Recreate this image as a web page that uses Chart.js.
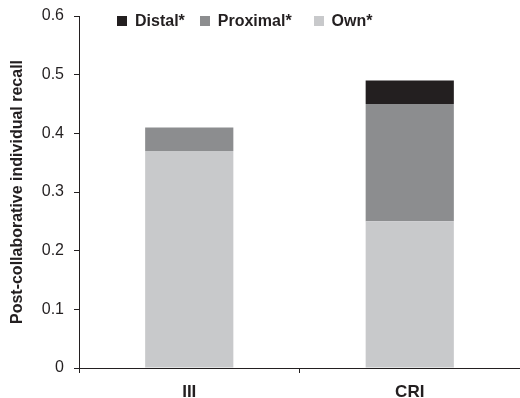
<!DOCTYPE html>
<html>
<head>
<meta charset="utf-8">
<script src="https://cdn.jsdelivr.net/npm/chart.js@4"></script>
<style>
  html, body { margin: 0; padding: 0; background: #fff; }
  #wrap { width: 520px; height: 398px; position: relative; }
  #legend {
    position: absolute; left: 117px; top: 12px;
    display: flex; align-items: center;
    font: bold 16px 'Liberation Sans', Arial, Helvetica, sans-serif;
    color: #231f20; white-space: nowrap;
  }
  .item { display: flex; align-items: center; margin-right: 15px; }
  .item:nth-child(2) { margin-right: 22px; }
  .box { width: 10px; height: 10px; margin-right: 8px; }
</style>
</head>
<body>
<div id="wrap"><canvas id="chart"></canvas><div id="legend"></div></div>
<script>
// Data
const categories = ['III', 'CRI'];
const ownValues = [0.37, 0.25];
const proximalValues = [0.04, 0.20];
const distalValues = [0, 0.04];
const yTicks = [0, 0.1, 0.2, 0.3, 0.4, 0.5, 0.6];

const INK = '#231f20';
const FONT = "'Liberation Sans', Arial, Helvetica, sans-serif";

const ctx = document.getElementById('chart').getContext('2d');
const chart = new Chart(ctx, {
    type: 'bar',
    data: {
        labels: categories,
        datasets: [
            { label: 'Own*', data: ownValues, backgroundColor: '#c8c9cb' },
            { label: 'Proximal*', data: proximalValues, backgroundColor: '#8c8d8f' },
            { label: 'Distal*', data: distalValues, backgroundColor: INK }
        ]
    },
    options: {
        responsive: true,
        maintainAspectRatio: false,
        animation: false,
        layout: { padding: { top: 16, right: 0, left: 0, bottom: 0 } },
        datasets: {
            bar: { categoryPercentage: 1, barPercentage: 0.4, borderWidth: 0 }
        },
        plugins: {
            legend: { display: false },
            tooltip: { enabled: false }
        },
        scales: {
            x: {
                stacked: true,
                grid: {
                    offset: true,
                    drawOnChartArea: false,
                    drawTicks: true,
                    tickLength: 5,
                    color: INK
                },
                border: { display: true, color: INK, width: 1 },
                ticks: {
                    color: INK,
                    padding: 9,
                    font: { family: FONT, size: 17, weight: 'bold' }
                },
                afterFit(scale) { scale.height = 30; }
            },
            y: {
                stacked: true,
                min: 0,
                max: 0.6,
                afterBuildTicks(scale) {
                    scale.ticks = yTicks.map(v => ({ value: v }));
                },
                grid: {
                    drawOnChartArea: false,
                    drawTicks: true,
                    tickLength: 5,
                    color: INK
                },
                border: { display: true, color: INK, width: 1 },
                ticks: {
                    color: INK,
                    padding: 10,
                    font: { family: FONT, size: 16 },
                    callback: v => String(Math.round(v * 10) / 10)
                },
                title: {
                    display: true,
                    text: 'Post-collaborative individual recall',
                    color: INK,
                    padding: { top: 8, bottom: 0 },
                    font: { family: FONT, size: 16, weight: 'bold' }
                },
                afterFit(scale) {
                    scale.width = 79;
                    // tick padding would otherwise push the plot top down
                    scale.paddingTop = 0;
                    scale.paddingBottom = 0;
                }
            }
        }
    }
});

// HTML legend, listed top of stack first
const legendBox = document.getElementById('legend');
chart.data.datasets.slice().reverse().forEach(ds => {
    const item = document.createElement('div');
    item.className = 'item';
    const box = document.createElement('span');
    box.className = 'box';
    box.style.background = ds.backgroundColor;
    const txt = document.createElement('span');
    txt.textContent = ds.label;
    item.appendChild(box);
    item.appendChild(txt);
    legendBox.appendChild(item);
});
</script>
</body>
</html>
